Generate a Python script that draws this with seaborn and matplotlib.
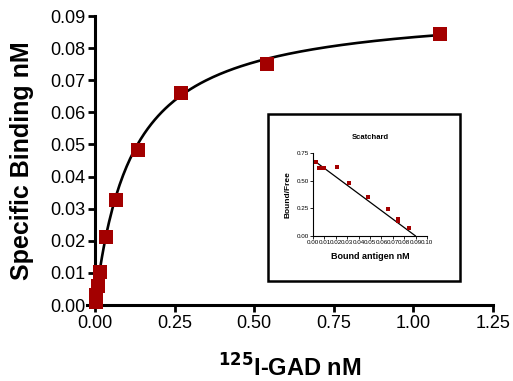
import numpy as np
import pandas as pd
import matplotlib
matplotlib.use("Agg")
import matplotlib.pyplot as plt
import matplotlib.patches as mpatches
import seaborn as sns

# saturation binding data
gad_nm = [1.085, 0.54, 0.27, 0.135, 0.0675, 0.034, 0.017, 0.0085, 0.004, 0.002]
bound_nm = [0.0845, 0.075, 0.066, 0.0483, 0.0326, 0.0211, 0.0104, 0.006, 0.003, 0.001]

# one-site fit parameters
bmax = 0.093
kd = 0.115

# scatchard inset data
sc_bound = [0.0024, 0.005, 0.0059, 0.010, 0.0208, 0.032, 0.048, 0.066, 0.0743, 0.0746, 0.084]
sc_ratio = [0.667, 0.618, 0.618, 0.618, 0.621, 0.479, 0.355, 0.245, 0.152, 0.134, 0.076]
sc_line_x = [0.0, 0.090]
sc_line_y = [0.688, 0.0]

red = "#A30000"

sns.set_theme(style="ticks", rc={"text.color": "black", "axes.labelcolor": "black",
                                 "xtick.color": "black", "ytick.color": "black",
                                 "axes.edgecolor": "black"})
plt.rcParams['font.family'] = ['Liberation Sans', 'DejaVu Sans']

fig = plt.figure(figsize=(5.13, 3.81), dpi=100)
ax = fig.add_axes([87 / 513, 1 - 305 / 381, 406 / 513, 289 / 381])

xfit = np.linspace(0, 1.1, 200)
fit = pd.DataFrame({"x": xfit, "y": bmax * xfit / (kd + xfit)})
sns.lineplot(data=fit, x="x", y="y", color="black", linewidth=1.9, ax=ax)

pts = pd.DataFrame({"x": gad_nm, "y": bound_nm})
sns.scatterplot(data=pts, x="x", y="y", marker="s", s=95, color=red,
                edgecolor=red, linewidth=0, ax=ax, zorder=5, clip_on=False)

ax.set_xlim(-0.025, 1.25)
ax.set_ylim(0, 0.09)
ax.set_xticks([0, 0.25, 0.5, 0.75, 1.0, 1.25])
ax.set_xticklabels(["0.00", "0.25", "0.50", "0.75", "1.00", "1.25"])
ax.set_yticks(np.arange(0, 0.0901, 0.01))
ax.set_yticklabels([f"{v:.2f}" for v in np.arange(0, 0.0901, 0.01)])
ax.spines['left'].set_position(('data', 0))
ax.spines['right'].set_visible(False)
ax.spines['top'].set_visible(False)
for s in ['left', 'bottom']:
    ax.spines[s].set_linewidth(2.2)
ax.tick_params(axis='both', width=2, length=5, labelsize=13, direction='out', pad=2)
ax.set_xlabel(r"$\mathbf{^{125}}$I-GAD nM", fontsize=17, fontweight='bold')
ax.set_ylabel("Specific Binding nM", fontsize=18, fontweight='bold')
ax.xaxis.set_label_coords(0.5, -0.17)
ax.yaxis.set_label_coords(-0.13, 0.5)

# inset box
box = mpatches.Rectangle((268 / 513, 1 - 281 / 381), 192 / 513, 167 / 381,
                         transform=fig.transFigure, fill=False, edgecolor="black",
                         linewidth=1.8, zorder=1)
fig.patches.append(box)

ins = fig.add_axes([313 / 513, 1 - 236 / 381, 114 / 513, 83 / 381])
sl = pd.DataFrame({"x": sc_line_x, "y": sc_line_y})
sns.lineplot(data=sl, x="x", y="y", color="black", linewidth=0.9, ax=ins)
sp = pd.DataFrame({"x": sc_bound, "y": sc_ratio})
sns.scatterplot(data=sp, x="x", y="y", marker="s", s=12, color=red,
                edgecolor=red, linewidth=0, ax=ins, zorder=5, clip_on=False)
ins.set_xlim(0, 0.10)
ins.set_ylim(0, 0.75)
ins.set_xticks(np.arange(0, 0.1001, 0.01))
ins.set_xticklabels([f"{v:.2f}" for v in np.arange(0, 0.1001, 0.01)])
ins.set_yticks([0, 0.25, 0.5, 0.75])
ins.set_yticklabels(["0.00", "0.25", "0.50", "0.75"])
ins.spines['right'].set_visible(False)
ins.spines['top'].set_visible(False)
for s in ['left', 'bottom']:
    ins.spines[s].set_linewidth(0.8)
ins.tick_params(axis='both', width=0.6, length=2, labelsize=4.5, pad=1)
ins.set_xlabel("Bound antigen nM", fontsize=6.5, fontweight='bold', labelpad=5)
ins.set_ylabel("Bound/Free", fontsize=6, fontweight='bold', labelpad=4)
ins.set_title("Scatchard", fontsize=5.5, fontweight='bold', pad=10)

fig.savefig("out.png", dpi=100)
